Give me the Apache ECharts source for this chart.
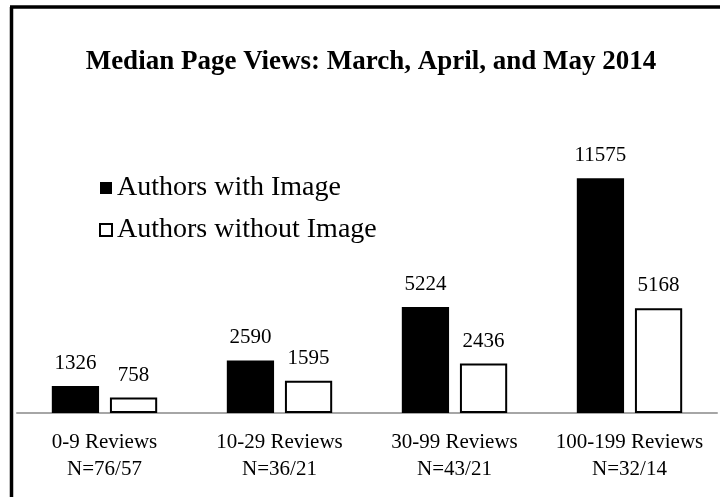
<!DOCTYPE html>
<html>
<head>
<meta charset="utf-8">
<script src="https://cdn.jsdelivr.net/npm/echarts@6/dist/echarts.min.js"></script>
<style>
  html, body { margin: 0; padding: 0; background: #fff; }
  #container { width: 720px; height: 497px; }
</style>
</head>
<body>
<div id="container"></div>
<script>
var categories = ['0-9 Reviews\nN=76/57', '10-29 Reviews\nN=36/21', '30-99 Reviews\nN=43/21', '100-199 Reviews\nN=32/14'];
var withImage = [1326, 2590, 5224, 11575];
var withoutImage = [758, 1595, 2436, 5168];

var container = document.getElementById('container');
var charts = echarts.init(container);

var serif = '"Liberation Serif", "Times New Roman", serif';

var option = {
    backgroundColor: '#fff',
    animation: false,
    title: {
        text: 'Median Page Views: March, April, and May 2014',
        left: 366,
        textAlign: 'center',
        top: 44,
        textStyle: { fontFamily: serif, fontWeight: 'bold', fontSize: 27, color: '#000' }
    },
    legend: {
        orient: 'vertical',
        left: 94,
        top: 169,
        itemGap: 14,
        itemWidth: 12,
        itemHeight: 12,
        icon: 'rect',
        textStyle: { fontFamily: serif, fontSize: 28, color: '#000' },
        data: ['Authors with Image', 'Authors without Image']
    },
    grid: { left: 17, right: 3, top: 129, bottom: 84 },
    xAxis: {
        type: 'category',
        data: categories,
        axisLine: { lineStyle: { color: '#a6a6a6', width: 2 } },
        axisTick: { show: false },
        axisLabel: { interval: 0, margin: 16, fontFamily: serif, fontSize: 21, lineHeight: 27, color: '#000' }
    },
    yAxis: {
        type: 'value',
        min: 0,
        max: 14000,
        show: false,
        splitLine: { show: false }
    },
    graphic: [
        { type: 'line', shape: { x1: 11.5, y1: 7, x2: 11.5, y2: 497 }, style: { stroke: '#000', lineWidth: 3.5 } },
        { type: 'line', shape: { x1: 10, y1: 7, x2: 720, y2: 7 }, style: { stroke: '#000', lineWidth: 3.5 } }
    ],
    series: [
        {
            name: 'Authors with Image',
            type: 'bar',
            data: withImage,
            barWidth: '27%',
            barGap: '23%',
            itemStyle: { color: '#000' },
            label: { show: true, position: 'top', distance: 12, fontFamily: serif, fontSize: 21, color: '#000' }
        },
        {
            name: 'Authors without Image',
            type: 'bar',
            data: withoutImage,
            barWidth: '27%',
            itemStyle: { color: '#fff', borderColor: '#000', borderWidth: 2 },
            label: { show: true, position: 'top', distance: 12, fontFamily: serif, fontSize: 21, color: '#000' }
        }
    ]
};

charts.setOption(option, true);
</script>
</body>
</html>
